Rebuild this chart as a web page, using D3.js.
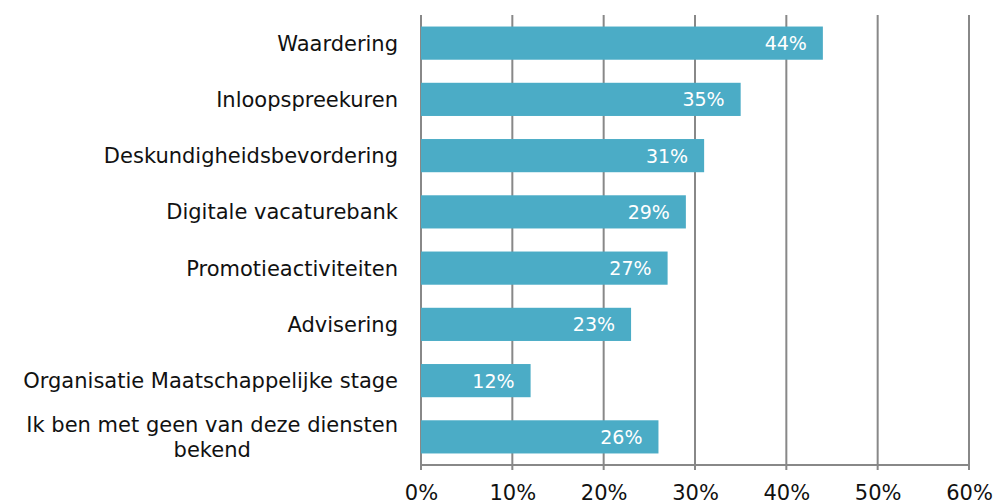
<!DOCTYPE html>
<html><head><meta charset="utf-8">
<script src="https://cdn.jsdelivr.net/npm/d3@7"></script>
<style>body{margin:0;background:#fff;} text{font-family:"DejaVu Sans",Verdana,sans-serif;}</style>
</head><body>
<svg id="c" width="995" height="503"></svg>
<script>
const categories = [
  ["Waardering"],
  ["Inloopspreekuren"],
  ["Deskundigheidsbevordering"],
  ["Digitale vacaturebank"],
  ["Promotieactiviteiten"],
  ["Advisering"],
  ["Organisatie Maatschappelijke stage"],
  ["Ik ben met geen van deze diensten", "bekend"]
];
const values = [44, 35, 31, 29, 27, 23, 12, 26];
const tickValues = [0, 10, 20, 30, 40, 50, 60];

const svg = d3.select("#c");
const m = {left: 421, right: 969, top: 15, bottom: 465};
const x = d3.scaleLinear().domain([0, 60]).range([m.left, m.right]);
const y = d3.scaleBand().domain(d3.range(categories.length)).range([m.top, m.bottom]).paddingInner(0.41).paddingOuter(0.205);

// gridlines
svg.append("g").selectAll("line").data(tickValues).join("line")
  .attr("x1", d => x(d)).attr("x2", d => x(d))
  .attr("y1", m.top).attr("y2", m.bottom + 5)
  .attr("stroke", "#888").attr("stroke-width", 2);
svg.append("line").attr("x1", x(0)).attr("x2", x(60)).attr("y1", m.bottom).attr("y2", m.bottom)
  .attr("stroke", "#888").attr("stroke-width", 2);

// tick labels
svg.append("g").selectAll("text").data(tickValues).join("text")
  .attr("x", d => x(d) + 0.5).attr("y", 499.5)
  .attr("text-anchor", "middle")
  .attr("font-size", 21).attr("fill", "#111").text(d => d + "%");

// bars
svg.append("g").selectAll("rect").data(values).join("rect")
  .attr("x", x(0)).attr("y", (d, i) => y(i))
  .attr("width", d => x(d) - x(0)).attr("height", y.bandwidth())
  .attr("fill", "#4BACC6");

// value labels
svg.append("g").selectAll("text").data(values).join("text")
  .attr("x", d => x(d) - 16).attr("y", (d, i) => y(i) + y.bandwidth() / 2 + 7)
  .attr("text-anchor", "end").attr("font-size", 19).attr("fill", "#fff")
  .text(d => d + "%");

// category labels
const lg = svg.append("g");
categories.forEach((lines, i) => {
  const cy = y(i) + y.bandwidth() / 2;
  const lh = 25;
  const t = lg.append("text").attr("font-size", 21).attr("fill", "#111");
  const tmp = lg.append("text").attr("font-size", 21);
  let maxW = 0;
  lines.forEach(l => { tmp.text(l); maxW = Math.max(maxW, tmp.node().getComputedTextLength()); });
  tmp.remove();
  lines.forEach((l, j) => {
    t.append("tspan").attr("x", 398 - maxW / 2).attr("text-anchor", "middle")
      .attr("y", cy + 7.5 + (j - (lines.length - 1) / 2) * lh).text(l);
  });
});
</script>
</body></html>
